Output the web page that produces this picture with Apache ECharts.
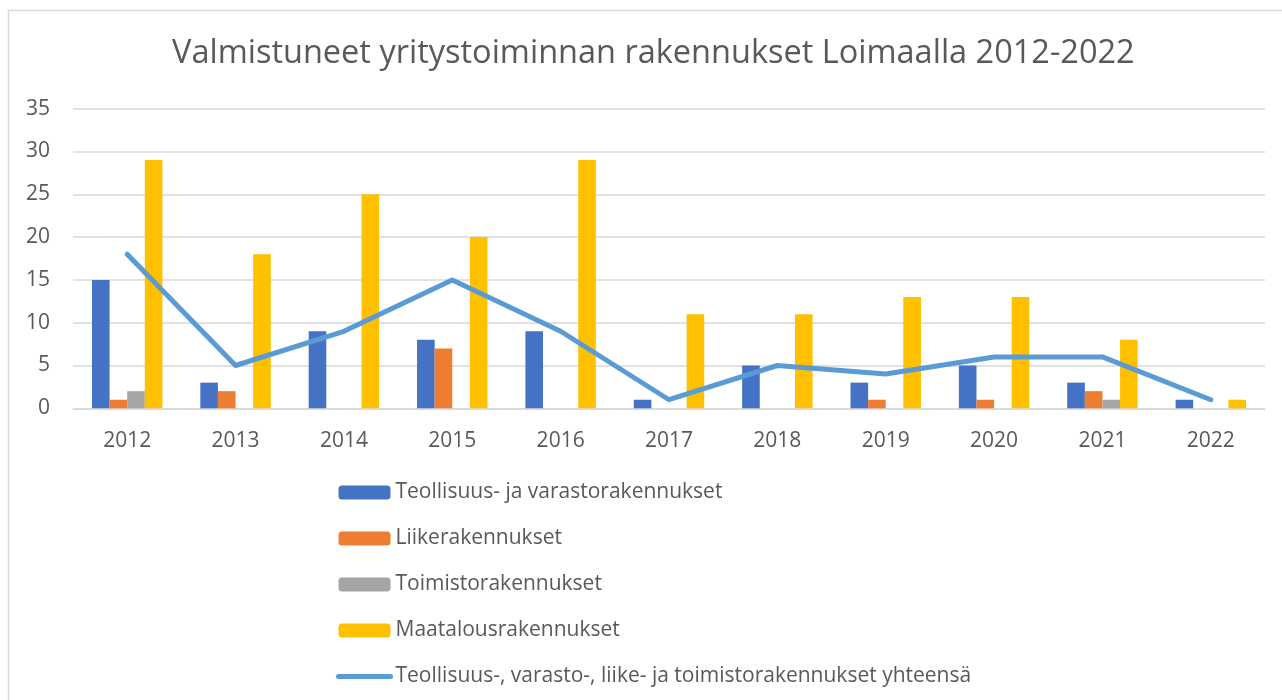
<!DOCTYPE html>
<html>
<head>
<meta charset="utf-8">
<script src="https://cdn.jsdelivr.net/npm/echarts@6/dist/echarts.min.js"></script>
<style>
  html, body { margin: 0; padding: 0; background: #fff; }
  #chart { width: 1282px; height: 700px; }
</style>
</head>
<body>
<div id="chart"></div>
<script>
// vuodet
var years = ['2012', '2013', '2014', '2015', '2016', '2017', '2018', '2019', '2020', '2021', '2022'];
// sarjat
var teollisuus = [15, 3, 9, 8, 9, 1, 5, 3, 5, 3, 1];
var liike = [1, 2, 0, 7, 0, 0, 0, 1, 1, 2, 0];
var toimisto = [2, 0, 0, 0, 0, 0, 0, 0, 0, 1, 0];
var maatalous = [29, 18, 25, 20, 29, 11, 11, 13, 13, 8, 1];
var yhteensa = [18, 5, 9, 15, 9, 1, 5, 4, 6, 6, 1];

var names = [
  'Teollisuus- ja varastorakennukset',
  'Liikerakennukset',
  'Toimistorakennukset',
  'Maatalousrakennukset',
  'Teollisuus-, varasto-, liike- ja toimistorakennukset yhteensä'
];

var fontFam = '"Open Sans", sans-serif';
var txtColor = '#595959';
var lineColor = '#5b9bd5';

function bar(name, data, color) {
  return {
    name: name,
    type: 'bar',
    data: data,
    barGap: 0,
    barCategoryGap: '35%',
    itemStyle: { color: color }
  };
}

var chart = echarts.init(document.getElementById('chart'));
chart.setOption({
  animation: false,
  title: {
    text: 'Valmistuneet yritystoiminnan rakennukset Loimaalla 2012-2022',
    left: 167,
    top: 32,
    textStyle: { fontFamily: fontFam, fontSize: 32.5, fontWeight: 'normal', color: txtColor }
  },
  graphic: [{
    type: 'rect',
    shape: { x: 8.5, y: 10.5, width: 1300, height: 720 },
    style: { fill: 'none', stroke: '#d9d9d9', lineWidth: 1.5 },
    silent: true
  }],
  legend: {
    orient: 'vertical',
    left: 336,
    top: 482,
    padding: 0,
    itemWidth: 52,
    itemHeight: 14,
    itemGap: 25,
    itemTextGap: 6,
    data: [
      names[0], names[1], names[2], names[3],
      {
        name: names[4],
        itemStyle: { color: 'rgba(0,0,0,0)', borderWidth: 0 },
        lineStyle: { width: 5, cap: 'round', color: lineColor }
      }
    ],
    textStyle: { fontFamily: fontFam, fontSize: 21, color: txtColor, lineHeight: 20 }
  },
  grid: { left: 73, right: 17, top: 108.7, bottom: 291.7 },
  xAxis: {
    type: 'category',
    data: years,
    axisTick: { show: false },
    axisLine: { lineStyle: { color: '#d9d9d9', width: 1.5 } },
    axisLabel: { fontFamily: fontFam, fontSize: 21, color: txtColor, margin: 22 }
  },
  yAxis: {
    type: 'value',
    min: 0,
    max: 35,
    interval: 5,
    axisLine: { show: false },
    axisTick: { show: false },
    splitLine: { lineStyle: { color: '#d9d9d9', width: 1.5 } },
    axisLabel: { fontFamily: fontFam, fontSize: 21, color: txtColor, margin: 23 }
  },
  series: [
    bar(names[0], teollisuus, '#4472c4'),
    bar(names[1], liike, '#ed7d31'),
    bar(names[2], toimisto, '#a5a5a5'),
    bar(names[3], maatalous, '#ffc000'),
    {
      name: names[4],
      type: 'line',
      data: yhteensa,
      symbol: 'none',
      z: 5,
      itemStyle: { color: lineColor },
      lineStyle: { color: lineColor, width: 5, cap: 'round', join: 'round' }
    }
  ]
});
</script>
</body>
</html>
